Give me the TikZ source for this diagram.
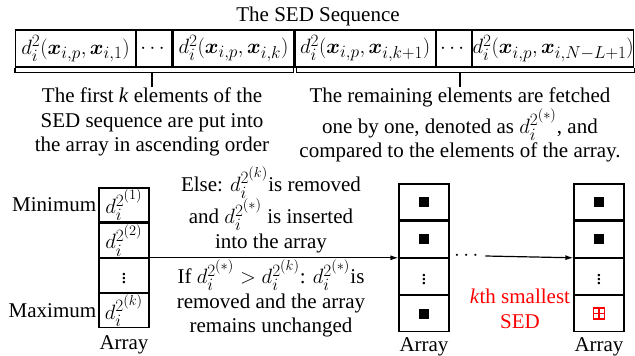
\documentclass[tikz,border=0pt]{standalone}
\usepackage{amsmath,bm}
\usepackage{fontspec}
\setmainfont{Liberation Serif}
\DeclareMathSizes{21}{21}{17}{14}
\usetikzlibrary{arrows.meta,positioning}

\begin{document}
\begin{tikzpicture}[x=1pt,y=-1pt,>={Latex[length=8pt,width=5pt]},
    every node/.style={font=\fontsize{21}{24.5}\selectfont},
    seqcell/.style={draw,line width=1.2pt,minimum height=37pt,inner sep=0pt},
    arrcell/.style={draw,line width=1.2pt,minimum width=50pt,inner sep=0pt},
    txt/.style={align=center,inner sep=1pt},
    blacksq/.style={fill=black,minimum size=10pt,inner sep=0pt},
    redsq/.style={draw=red,line width=1.5pt,minimum size=11pt,inner sep=0pt}]
    \useasboundingbox (0,0) rectangle (635,356);
    % sequence row
    \node (title) at (318,16) {The SED Sequence};
    \node[seqcell,minimum width=120pt,anchor=west] (s1) at (15,48.5) {$d_i^2(\bm{x}_{i,p},\bm{x}_{i,1})$};
    \node[seqcell,minimum width=35pt,right=0pt of s1] (s2) {$\cdots$};
    \node[seqcell,minimum width=121pt,right=0pt of s2] (s3) {$d_i^2(\bm{x}_{i,p},\bm{x}_{i,k})$};
    \node[seqcell,minimum width=140pt,right=0pt of s3] (s4) {$d_i^2(\bm{x}_{i,p},\bm{x}_{i,k+1})$};
    \node[seqcell,minimum width=35pt,right=0pt of s4] (s5) {$\cdots$};
    \node[seqcell,minimum width=161pt,right=0pt of s5] (s6) {$d_i^2(\bm{x}_{i,p},\bm{x}_{i,N-L+1})$};
    \draw[line width=1.2pt] (s1.south west) -- ++(0,5) -| ([xshift=-1.5pt]s3.south east);
    \draw[line width=1.2pt] ([xshift=1.5pt]s4.south west) -- ++(0,5) -| (s6.south east);
    \node[txt,anchor=north] (first) at (152,87) {The first \textit{k} elements of the\\SED sequence are put into\\the array in ascending order};
    \node[txt,anchor=north] (rest) at (460,87) {The remaining elements are fetched\\one by one, denoted as $d_i^{2^{(*)}}$, and\\compared to the elements of the array.};
    \draw[line width=1.2pt] (first.north) -- ++(0,-14);
    \draw[line width=1.2pt] (rest.north) -- ++(0,-14);
    % first array
    \node[arrcell,minimum height=34pt] (a1) at (124,205) {$d_i^{2^{(1)}}$};
    \node[arrcell,minimum height=34pt,below=0pt of a1] (a2) {$d_i^{2^{(2)}}$};
    \node[arrcell,minimum height=34pt,below=0pt of a2] (a3) {$\vdots$};
    \node[arrcell,minimum height=34pt,below=0pt of a3] (a4) {$d_i^{2^{(k)}}$};
    \node[left=1pt of a1,inner sep=1pt] (minlbl) {Minimum};
    \node[left=1pt of a4,inner sep=1pt] (maxlbl) {Maximum};
    \node[below=6pt of a4,inner sep=1pt] (arr1) {Array};
    % second array
    \node[arrcell,minimum height=36pt] (b1) at (424,202) {};
    \node[arrcell,minimum height=36pt,below=0pt of b1] (b2) {};
    \node[arrcell,minimum height=36pt,below=0pt of b2] (b3) {$\vdots$};
    \node[arrcell,minimum height=36pt,below=0pt of b3] (b4) {};
    \node[below=4pt of b4,inner sep=1pt] (arr2) {Array};
    % last array
    \node[arrcell,minimum height=36pt] (c1) at (599,202) {};
    \node[arrcell,minimum height=36pt,below=0pt of c1] (c2) {};
    \node[arrcell,minimum height=36pt,below=0pt of c2] (c3) {$\vdots$};
    \node[arrcell,minimum height=36pt,below=0pt of c3] (c4) {};
    \node[below=4pt of c4,inner sep=1pt] (arr3) {Array};
    \foreach \c in {b1,b2,b4,c1,c2}
      \node[blacksq] (sq-\c) at (\c) {};
    \node[redsq] (kth) at (c4) {};
    \draw[red,line width=1.5pt] (kth.north) -- (kth.south) (kth.west) -- (kth.east);
    % arrows and conditions
    \draw[->,line width=1.2pt] (a2.south east) -- (b2.south west);
    \node[txt,anchor=south] (elsetxt) at (271,254) {Else: $d_i^{2^{(k)}}$is removed\\and $d_i^{2^{(*)}}$ is inserted\\into the array};
    \node[txt,anchor=north] (iftxt) at (271,258) {If $d_i^{2^{(*)}}>d_i^{2^{(k)}}$: $d_i^{2^{(*)}}$is\\removed and the array\\remains unchanged};
    \node (dots) at (468,256) {$\cdots$};
    \draw[->,line width=1.2pt] (dots.east) -- (c2.south west);
    \node[txt,text=red] (smallest) at (520,309) {\textit{k}th smallest\\SED};
\end{tikzpicture}
\end{document}
